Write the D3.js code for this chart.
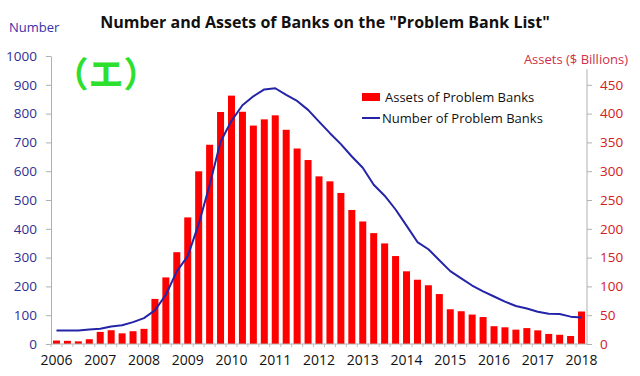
<!DOCTYPE html>
<html><head><meta charset="utf-8">
<script src="https://cdn.jsdelivr.net/npm/d3@7"></script>
<style>
html,body{margin:0;padding:0;background:#fff;}
svg{display:block;font-family:"Open Sans",sans-serif;}
</style></head>
<body>
<svg id="c" width="640" height="376"></svg>
<script>
// ---- data (quarterly, 2006Q1 .. 2018Q1) ----
const quarters = [];
for (let y = 2006; y <= 2018; y++) for (let q = 1; q <= 4; q++) { if (y === 2018 && q > 1) break; quarters.push(y + "Q" + q); }
const assets = [6.0, 5.5, 4.6, 8.3, 21.0, 23.9, 18.5, 22.2,
  26.3, 78.3, 115.6, 159.4, 219.8, 299.8, 345.9, 402.8,
  431.2, 403.2, 379.2, 390.0, 397.0, 371.9, 339.4, 319.4,
  291.0, 282.4, 262.2, 232.7, 212.7, 192.5, 174.6, 152.7,
  126.2, 111.6, 102.0, 86.7, 60.3, 56.9, 51.1, 46.8,
  30.9, 29.0, 24.9, 27.6, 23.7, 17.5, 16.0, 13.9, 56.4];
const banks = [47, 47, 47, 50, 53, 61, 65, 76,
  90, 117, 171, 252, 305, 416, 552, 702,
  775, 829, 860, 884, 888, 865, 844, 813,
  772, 732, 694, 651, 612, 553, 515, 467,
  411, 354, 329, 291, 253, 228, 203, 183,
  165, 147, 132, 123, 112, 105, 104, 95, 92];
const yearLabels = ["2006","2007","2008","2009","2010","2011","2012","2013","2014","2015","2016","2017","2018"];
const leftTicks = [0,100,200,300,400,500,600,700,800,900,1000];
const rightTicks = [0,50,100,150,200,250,300,350,400,450];

const svg = d3.select("#c");
const L = 51, R = 587, T = 56, B = 344;

const x = d3.scaleBand().domain(quarters).range([L, R]).paddingInner(0.36).paddingOuter(0.18);
const yL = d3.scaleLinear().domain([0, 1000]).range([B, T]);
const yR = d3.scaleLinear().domain([0, 500]).range([B, T]);

// bars
svg.append("g").selectAll("rect").data(assets).join("rect")
  .attr("x", (d, i) => x(quarters[i]))
  .attr("width", x.bandwidth())
  .attr("y", d => yR(d))
  .attr("height", d => B - yR(d))
  .attr("fill", "#ff0000");

// line
const line = d3.line().x((d, i) => x(quarters[i]) + x.bandwidth() / 2).y(d => yL(d));
svg.append("path").datum(banks).attr("d", line)
  .attr("fill", "none").attr("stroke", "#2424a8").attr("stroke-width", 2).attr("stroke-linejoin", "round");

// left axis
const ga = svg.append("g").attr("transform", `translate(${L},0)`)
  .call(d3.axisLeft(yL).tickValues(leftTicks).tickFormat(d3.format("d")).tickSize(5).tickSizeOuter(0).tickPadding(9));
ga.select(".domain").attr("stroke", "#b0b0b0");
ga.selectAll(".tick line").attr("stroke", "#b0b0b0");
ga.selectAll("text").attr("fill", "#2f2f96").style("font-size", "13.5px").style("font-family", "Open Sans");

// right axis
const gr = svg.append("g").attr("transform", `translate(${R},0)`)
  .call(d3.axisRight(yR).tickValues(rightTicks).tickSize(5).tickSizeOuter(0).tickPadding(8));
gr.select(".domain").attr("d", `M0,${yR(477)}V${B}`).attr("stroke", "#b0b0b0");
gr.selectAll(".tick line").attr("stroke", "#b0b0b0");
gr.selectAll("text").attr("fill", "#d42020").style("font-size", "13.5px").style("font-family", "Open Sans");

// bottom axis
const gb = svg.append("g").attr("transform", `translate(0,${B})`);
gb.append("line").attr("x1", L).attr("x2", R).attr("stroke", "#b0b0b0");
gb.selectAll("line.qt").data(quarters).join("line").attr("class", "qt")
  .attr("x1", (d) => x(d) - x.step() * x.paddingInner() / 2)
  .attr("x2", (d) => x(d) - x.step() * x.paddingInner() / 2)
  .attr("y1", 0).attr("y2", 3).attr("stroke", "#c0c0c0");
gb.selectAll("text").data(yearLabels).join("text")
  .attr("x", d => x(d + "Q1") + x.bandwidth() / 2)
  .attr("y", 21).attr("text-anchor", "middle")
  .style("font-size", "14px").attr("fill", "#111").text(d => d);

// title & axis titles
svg.append("text").attr("x", 325).attr("y", 28).attr("text-anchor", "middle")
  .style("font-size", "16px").style("font-weight", "bold").attr("fill", "#111")
  .text('Number and Assets of Banks on the "Problem Bank List"');
svg.append("text").attr("x", 9).attr("y", 32).style("font-size", "13px").attr("fill", "#3a30a8").text("Number");
svg.append("text").attr("x", 628).attr("y", 64).attr("text-anchor", "end").style("font-size", "13px").attr("fill", "#d0304a").text("Assets ($ Billions)");

// green label
svg.append("text").attr("x", 106).attr("y", 87).attr("text-anchor", "middle")
  .style("font-family", "Noto Sans CJK JP").style("font-weight", "bold").style("font-size", "35px")
  .attr("fill", "#2ee02e").text("（エ）");

// legend
const lg = svg.append("g");
lg.append("rect").attr("x", 362).attr("y", 93).attr("width", 18).attr("height", 8).attr("fill", "#ff0000");
lg.append("text").attr("x", 385).attr("y", 102).style("font-size", "13px").attr("fill", "#111").text("Assets of Problem Banks");
lg.append("line").attr("x1", 362).attr("x2", 380).attr("y1", 118).attr("y2", 118).attr("stroke", "#2424a8").attr("stroke-width", 2);
lg.append("text").attr("x", 382).attr("y", 123).style("font-size", "13px").attr("fill", "#111").text("Number of Problem Banks");
</script>
</body></html>
